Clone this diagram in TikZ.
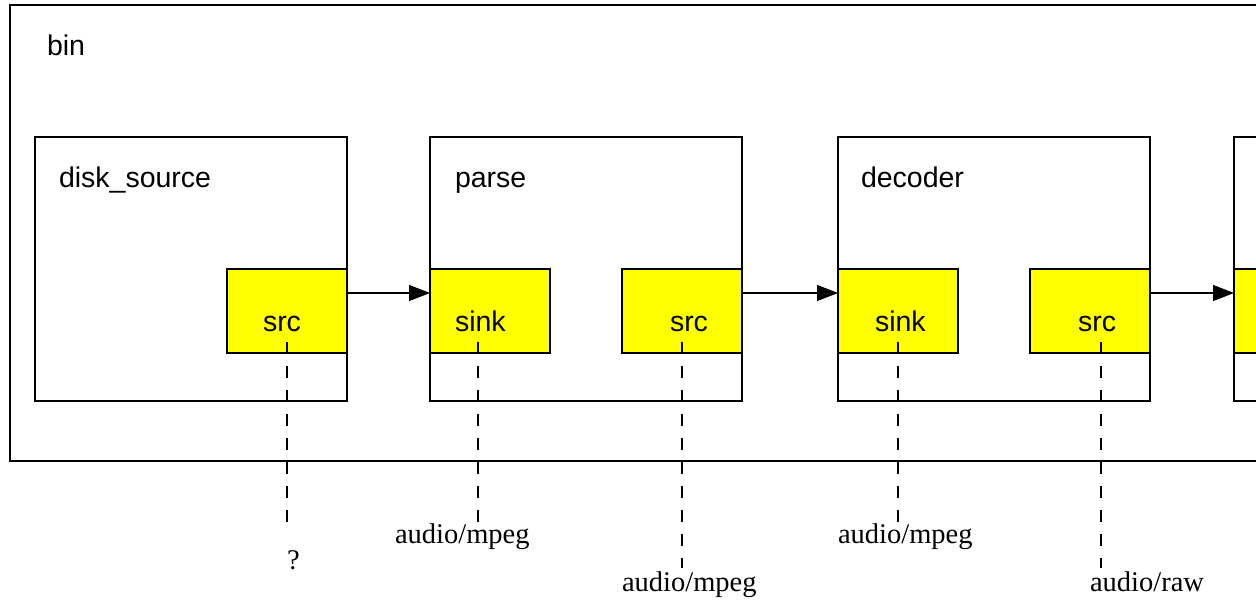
\documentclass[tikz,border=0pt]{standalone}
\usepackage{fontspec}
\setmainfont{Liberation Serif}
\setsansfont{Liberation Sans}
\usetikzlibrary{arrows.meta,calc}
\begin{document}
\begin{tikzpicture}[x=1pt,y=-1pt,
  every node/.style={inner sep=0pt,outer sep=0pt},
  boxframe/.style={draw,line width=1.2pt,anchor=north west},
  elembox/.style={boxframe,minimum width=312pt,minimum height=264pt},
  padbox/.style={boxframe,fill={rgb,255:red,255;green,255;blue,0},minimum width=120pt,minimum height=84pt},
  sanslbl/.style={anchor=base west,font=\sffamily\fontsize{28.5}{34}\selectfont},
  capslbl/.style={anchor=base west,font=\rmfamily\fontsize{28.5}{34}\selectfont},
  linkarrow/.style={line width=1.2pt,-{Triangle[length=21pt,width=16pt]}},
  probeline/.style={line width=1.2pt,dash pattern=on 12pt off 12pt}]
\useasboundingbox (0,0) rectangle (1256,600);
\clip (0,0) rectangle (1256,600);
\fill[white] (0,0) rectangle (1256,600);
% bin
\node[boxframe,minimum width=1300pt,minimum height=456pt] (bin) at (10,5) {};
\node[sanslbl] (binlbl) at (47,55) {bin};
% elements
\node[elembox] (disk) at (35,137) {};
\node[elembox] (parse) at (430,137) {};
\node[elembox] (dec) at (838,137) {};
\node[elembox] (next) at (1234,137) {};
\node[sanslbl] (disklbl) at (59,187) {disk\_source};
\node[sanslbl] (parselbl) at (455,187) {parse};
\node[sanslbl] (declbl) at (861,187) {decoder};
% pads
\node[padbox] (dsrc) at (227,269) {};
\node[padbox] (psink) at (430,269) {};
\node[padbox] (psrc) at (622,269) {};
\node[padbox] (dsink) at (838,269) {};
\node[padbox] (decsrc) at (1030,269) {};
\node[padbox] (nsink) at (1234,269) {};
\node[sanslbl] (dsrclbl) at (263,331) {src};
\node[sanslbl] (psinklbl) at (455,331) {sink};
\node[sanslbl] (psrclbl) at (670,331) {src};
\node[sanslbl] (dsinklbl) at (875,331) {sink};
\node[sanslbl] (decsrclbl) at (1078,331) {src};
% links
\draw[linkarrow] ($(dsrc.north east)+(0,24)$) -- ($(psink.north west)+(0,24)$);
\draw[linkarrow] ($(psrc.north east)+(0,24)$) -- ($(dsink.north west)+(0,24)$);
\draw[linkarrow] ($(decsrc.north east)+(0,24)$) -- ($(nsink.north west)+(0,24)$);
% caps labels
\node[capslbl] (c1) at (287,569) {?};
\node[capslbl] (c2) at (395,543) {audio/mpeg};
\node[capslbl] (c3) at (622,591) {audio/mpeg};
\node[capslbl] (c4) at (838,543) {audio/mpeg};
\node[capslbl] (c5) at (1090,591) {audio/raw};
\coordinate (e1) at (287,522);
\coordinate (e2) at (478,530);
\coordinate (e3) at (682,568);
\coordinate (e4) at (898,530);
\coordinate (e5) at (1101,568);
\draw[probeline] ($(dsrc.south)+(0,-11)$) -- (e1);
\draw[probeline] ($(psink.south west)+(48,-11)$) -- (e2);
\draw[probeline] ($(psrc.south)+(0,-11)$) -- (e3);
\draw[probeline] ($(dsink.south)+(0,-11)$) -- (e4);
\draw[probeline] ($(decsrc.south)+(11,-11)$) -- (e5);
\end{tikzpicture}
\end{document}
